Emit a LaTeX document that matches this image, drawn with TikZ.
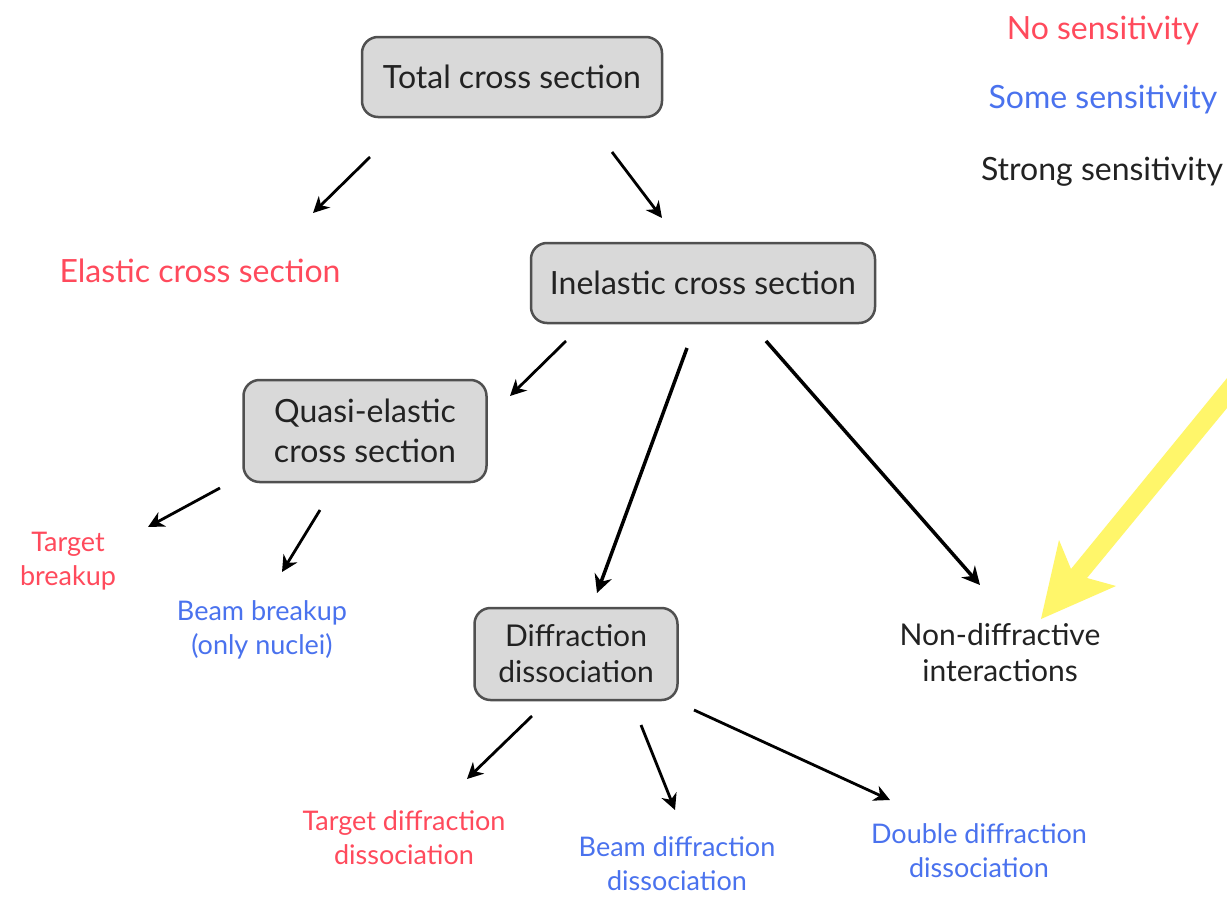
\documentclass[tikz,border=0pt]{standalone}
\usepackage{fontspec}
\setmainfont{Lato}
\usetikzlibrary{arrows.meta}
\definecolor{nosens}{HTML}{FF4A5C}
\definecolor{somesens}{HTML}{4A72EE}
\definecolor{strongsens}{HTML}{222222}
\definecolor{boxfill}{HTML}{D9D9D9}
\definecolor{boxline}{HTML}{505050}
\definecolor{hilite}{HTML}{FFF66A}
\begin{document}
\begin{tikzpicture}[x=1pt,y=-1pt,
  catbox/.style={draw=boxline,fill=boxfill,line width=2.5pt,rounded corners=16pt,
    align=center,inner sep=0pt,text=strongsens},
  big/.style={font=\fontsize{32}{40}\selectfont},
  mid/.style={font=\fontsize{30}{36}\selectfont},
  small/.style={font=\fontsize{27}{34}\selectfont},
  lbl/.style={align=center,inner sep=0pt},
  link/.style={draw=black,line width=2.8pt,-{Stealth[length=16pt,width=16pt,inset=5pt]}},
  boldlink/.style={draw=black,line width=3.5pt,-{Stealth[length=18pt,width=18pt,inset=6pt]}}]
\useasboundingbox (0,0) rectangle (1227,897);
\fill[white] (0,0) rectangle (1227,897);

% legend
\node[lbl,big,text=nosens]     (lgno)     at (1103,31)  {No sensitivity};
\node[lbl,big,text=somesens]   (lgsome)   at (1103,100) {Some sensitivity};
\node[lbl,big,text=strongsens] (lgstrong) at (1102,172) {Strong sensitivity};

% category boxes
\node[catbox,big,minimum width=300pt,minimum height=80pt] (total) at (512,77) {Total cross section};
\node[catbox,big,minimum width=344pt,minimum height=80pt] (inel)  at (703,283) {Inelastic cross section};
\node[catbox,big,minimum width=243pt,minimum height=102pt] (quasi) at (365,431) {Quasi-elastic\\cross section};
\node[catbox,mid,minimum width=203pt,minimum height=92pt] (diff)  at (576,654) {Diffraction\\dissociation};

% end points
\node[lbl,big,text=nosens]   (elastic) at (200,271) {Elastic cross section};
\node[lbl,small,text=nosens] (tbreak)  at (68,561)  {Target\\breakup};
\node[lbl,small,text=somesens] (bbreak) at (262,630) {Beam breakup\\(only nuclei)};
\node[lbl,mid,text=strongsens] (nondiff) at (1000,653) {Non-diffractive\\interactions};
\node[lbl,small,text=nosens]   (tdd) at (404,838) {Target diffraction\\dissociation};
\node[lbl,small,text=somesens] (bdd) at (677,864) {Beam diffraction\\dissociation};
\node[lbl,small,text=somesens] (ddd) at (979,851) {Double diffraction\\dissociation};

% connector ends
\coordinate (te0) at (370,157); \coordinate (te1) at (313,213);
\coordinate (ti0) at (612,152); \coordinate (ti1) at (662,218);
\coordinate (iq0) at (566,341); \coordinate (iq1) at (510,396);
\coordinate (id0) at (687,348); \coordinate (id1) at (597,593);
\coordinate (in0) at (766,341); \coordinate (in1) at (980,585);
\coordinate (qt0) at (220,488); \coordinate (qt1) at (148,527);
\coordinate (qb0) at (320,510); \coordinate (qb1) at (282,572);
\coordinate (dt0) at (532,716); \coordinate (dt1) at (467,779);
\coordinate (db0) at (641,725); \coordinate (db1) at (675,810);
\coordinate (dd0) at (694,710); \coordinate (dd1) at (890,800);

\draw[link] (te0) -- (te1);
\draw[link] (ti0) -- (ti1);
\draw[link] (iq0) -- (iq1);
\draw[boldlink] (id0) -- (id1);
\draw[boldlink] (in0) -- (in1);
\draw[link] (qt0) -- (qt1);
\draw[link] (qb0) -- (qb1);
\draw[link] (dt0) -- (dt1);
\draw[link] (db0) -- (db1);
\draw[link] (dd0) -- (dd1);

% highlight arrow pointing at the non-diffractive node
\fill[hilite] (1232,372) -- (1071,569) -- (1059,540) -- (1041,619)
  -- (1116,586) -- (1087,578) -- (1232,402) -- cycle;
\end{tikzpicture}
\end{document}
